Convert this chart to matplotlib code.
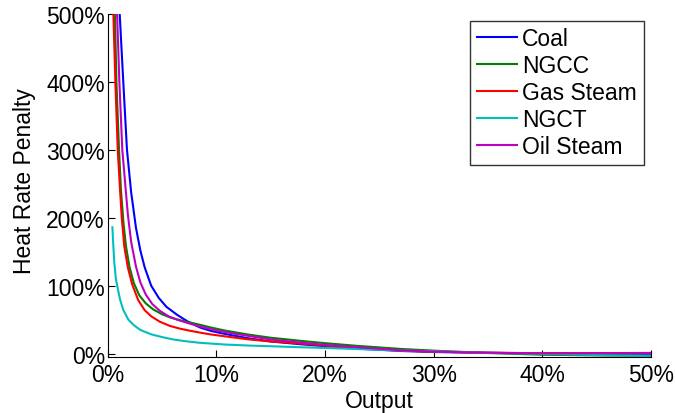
import matplotlib
matplotlib.use('Agg')
from matplotlib import pyplot as plt
from matplotlib.ticker import FuncFormatter

plt.rcParams['font.family'] = ['Liberation Sans', 'DejaVu Sans']

# output (% of capacity) and heat rate penalty (%)
coal_x = [1.0, 1.1, 1.43, 1.77, 2.15, 2.6, 3.0, 3.4, 4.0, 4.7, 5.4, 6.4, 7.4, 8.5, 9.5,
          10.8, 13, 15, 17.7, 20, 23, 27, 30, 35, 40, 45, 50]
coal_y = [580, 500, 400, 300, 238, 185, 152, 127, 100, 82, 69, 57, 47, 38.5, 33.5,
          29, 22.5, 18, 14, 11, 7.5, 4, 2.5, 1.2, 0.5, 0.2, 0]

ngcc_x = [0.58, 0.66, 0.8, 1.04, 1.22, 1.45, 1.68, 2.0, 2.4, 2.9, 3.5, 4.2, 5.0, 5.8, 6.6,
          7.4, 8.5, 9.5, 10.8, 13, 15, 17.7, 20, 23, 27, 30, 35, 40, 45, 50]
ngcc_y = [600, 500, 400, 300, 240, 192, 158, 128, 104, 86, 74, 65, 58, 53, 49.5,
          46.5, 42.5, 38.5, 34, 28, 23.5, 19, 15.5, 11.5, 7, 4.5, 1, -1.5, -2.5, -3]

gas_x = [0.45, 0.52, 0.7, 0.92, 1.13, 1.29, 1.53, 1.85, 2.25, 2.8, 3.4, 4.0, 4.8, 5.7,
         6.6, 7.5, 8.5, 9.5, 10.8, 13, 15, 17.7, 20, 23, 27, 30, 35, 40, 45, 50]
gas_y = [600, 500, 400, 300, 242, 200, 157, 127, 102, 79, 64, 55, 47, 41,
         37, 34, 31, 28.3, 25.5, 21, 18, 15, 12, 8.5, 4.5, 3, 1.5, 0.7, 0.8, 1.2]

ngct_x = [0.43, 0.5, 0.6, 0.75, 0.92, 1.13, 1.44, 1.9, 2.4, 3.0, 4.0, 5.0, 6.0, 7.1, 8.5,
          10.8, 13, 15, 17.7, 20, 23, 27, 30, 35, 40, 45, 50]
ngct_y = [186, 163, 135, 110, 96, 80, 64, 50, 42, 35, 28.5, 24.5, 21, 18.5, 16,
          13.5, 12, 11, 9.5, 8.5, 6.8, 4.8, 3.5, 1.5, -0.3, -2, -3.8]

oil_x = [0.75, 0.86, 1.07, 1.34, 1.65, 1.85, 2.15, 2.6, 3.0, 3.5, 4.1, 4.8, 5.6, 6.4,
         7.4, 8.5, 9.5, 10.8, 13, 15, 17.7, 20, 23, 27, 30, 35, 40, 45, 50]
oil_y = [600, 500, 400, 300, 242, 205, 165, 128, 105, 87, 73, 63, 55, 50,
         45, 40, 36, 31.8, 26, 21, 16.5, 13, 9.5, 5, 3, 1.5, 0.5, 0.7, 1]

series = [
    ("Coal", coal_x, coal_y, (0, 0, 1)),
    ("NGCC", ngcc_x, ngcc_y, (0, 0.5, 0)),
    ("Gas Steam", gas_x, gas_y, (1, 0, 0)),
    ("NGCT", ngct_x, ngct_y, (0, 0.75, 0.75)),
    ("Oil Steam", oil_x, oil_y, (0.75, 0, 0.75)),
]

fig = plt.figure(figsize=(6.75, 4.14), dpi=100)
ax = fig.add_axes([0.1596, 0.1345, 0.8049, 0.83])

for name, xs, ys, color in series:
    ax.plot(xs, ys, color=color, lw=1.5, label=name)

ax.set_xlim(0, 50)
ax.set_ylim(-5.3, 500)
ax.set_xticks([0, 10, 20, 30, 40, 50])
ax.set_yticks([0, 100, 200, 300, 400, 500])
pct = FuncFormatter(lambda v, p: "{:d}%".format(int(round(v))))
ax.xaxis.set_major_formatter(pct)
ax.yaxis.set_major_formatter(pct)
ax.tick_params(direction='in', length=5, width=0.8, labelsize=16.5)
ax.tick_params(axis='x', pad=4)
ax.tick_params(axis='y', pad=2)
ax.spines['top'].set_visible(False)
ax.spines['right'].set_visible(False)
ax.set_xlabel("Output", fontsize=16.5, labelpad=2)
ax.set_ylabel("Heat Rate Penalty", fontsize=16.5)
ax.yaxis.set_label_coords(-0.132, 0.517)

leg = ax.legend(loc='upper right', bbox_to_anchor=(0.987, 0.98), borderaxespad=0,
                fontsize=16.5, frameon=True, fancybox=False, handlelength=1.75,
                handletextpad=0.22, labelspacing=0.17, borderpad=0.3)
leg.get_frame().set_edgecolor('black')
leg.get_frame().set_linewidth(1.0)

fig.savefig("out.png", dpi=100)
